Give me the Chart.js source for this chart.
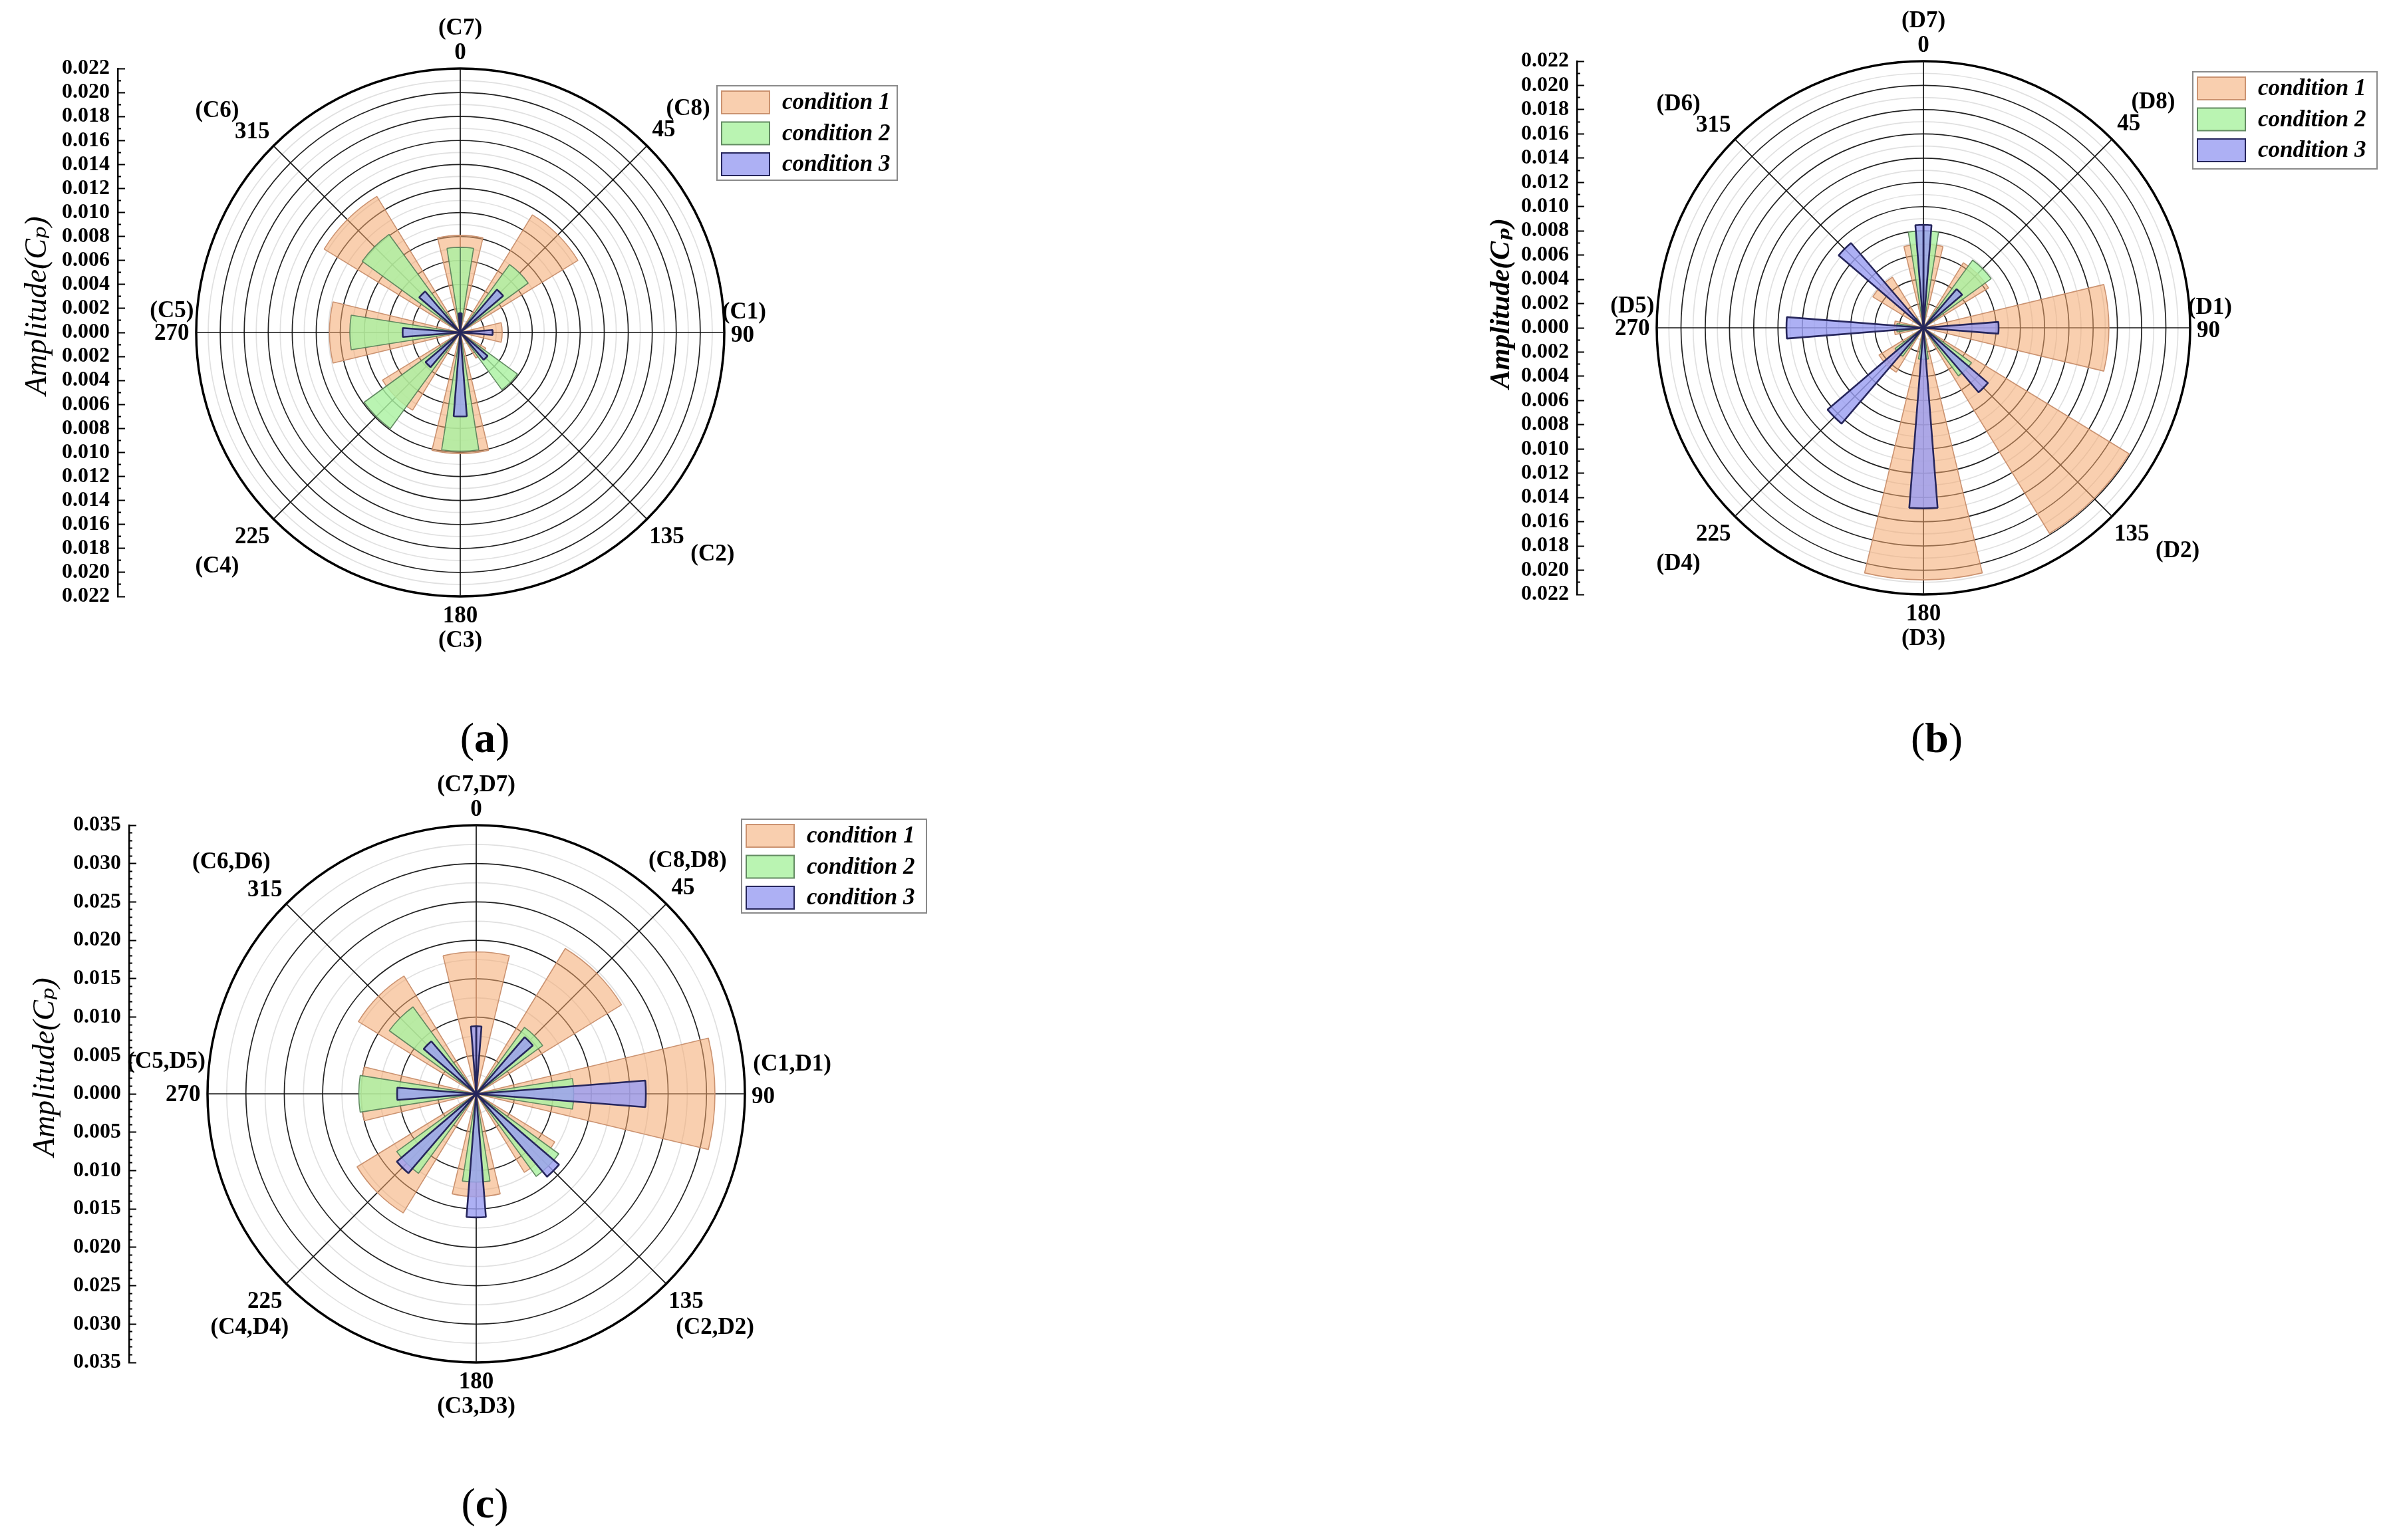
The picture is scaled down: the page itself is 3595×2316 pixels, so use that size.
<!DOCTYPE html>
<html>
<head>
<meta charset="utf-8">
<title>Amplitude rose charts</title>
<script src="https://cdn.jsdelivr.net/npm/chart.js@4.4.1/dist/chart.umd.min.js"></script>
<style>
  html, body { margin: 0; padding: 0; background: #ffffff; }
  body { position: relative; width: 3595px; height: 2316px; overflow: hidden; }
  canvas { position: absolute; }
  .caption { position: absolute; transform: translate(-50%, -50%); font-family: "Liberation Serif", "Times New Roman", serif; font-size: 64px; color: #000; white-space: nowrap; line-height: 1; }
  .caption b { font-weight: bold; }
</style>
</head>
<body>
<canvas id="chartA" width="1500" height="1060" style="left:0px;top:0px;"></canvas>
<canvas id="chartB" width="1445" height="1060" style="left:2150px;top:0px;"></canvas>
<canvas id="chartC" width="1500" height="1166" style="left:0px;top:1150px;"></canvas>
<div class="caption" style="left:729px;top:1110px;">(<b>a</b>)</div>
<div class="caption" style="left:2912px;top:1110px;">(<b>b</b>)</div>
<div class="caption" style="left:729px;top:2261px;">(<b>c</b>)</div>
<script>
// ---------- data ----------
const directions = [0, 45, 90, 135, 180, 225, 270, 315];
const pointNamesA = ['(C7)', '(C8)', '(C1)', '(C2)', '(C3)', '(C4)', '(C5)', '(C6)'];
const pointNamesB = ['(D7)', '(D8)', '(D1)', '(D2)', '(D3)', '(D4)', '(D5)', '(D6)'];
const pointNamesC = ['(C7,D7)', '(C8,D8)', '(C1,D1)', '(C2,D2)', '(C3,D3)', '(C4,D4)', '(C5,D5)', '(C6,D6)'];
const conditionNames = ['condition 1', 'condition 2', 'condition 3'];
const axisTitle = 'Amplitude(C\u209A)';

const condition1A = [0.0081, 0.0115, 0.0035, 0.0025, 0.0101, 0.0076, 0.0109, 0.0133];
const condition2A = [0.0071, 0.0070, 0.0005, 0.0059, 0.0099, 0.0099, 0.0092, 0.0101];
const condition3A = [0.0016, 0.0047, 0.0027, 0.0030, 0.0070, 0.0038, 0.0048, 0.0045];

const condition1B = [0.0069, 0.0063, 0.0153, 0.0199, 0.0208, 0.0043, 0.0024, 0.0049];
const condition2B = [0.0080, 0.0069, 0.0005, 0.0049, 0.0026, 0.0029, 0.0022, 0.0010];
const condition3B = [0.0085, 0.0042, 0.0062, 0.0070, 0.0149, 0.0104, 0.0113, 0.0092];

const condition1C = [0.0185, 0.0222, 0.0311, 0.0120, 0.0134, 0.0182, 0.0150, 0.0180];
const condition2C = [0.0008, 0.0107, 0.0127, 0.0133, 0.0115, 0.0128, 0.0153, 0.0140];
const condition3C = [0.0088, 0.0097, 0.0221, 0.0142, 0.0161, 0.0136, 0.0103, 0.0090];

const amplitudeTicksAB = [0.000, 0.002, 0.004, 0.006, 0.008, 0.010, 0.012, 0.014, 0.016, 0.018, 0.020, 0.022];
const amplitudeTicksC = [0.000, 0.005, 0.010, 0.015, 0.020, 0.025, 0.030, 0.035];

// ---------- styling ----------
const SERIF = '"Liberation Serif", "Times New Roman", "DejaVu Serif", serif';
const barWidths = [27, 18, 9];
const barFills = ['rgba(244,168,110,0.55)', 'rgba(171,242,161,0.82)', 'rgba(155,159,242,0.82)'];
const barBorders = ['rgba(200,142,108,0.95)', 'rgba(92,132,92,0.95)', 'rgba(38,38,92,1)'];
const barBorderWidths = [1.6, 1.6, 2.6];
const LS = 2.293;
const NUM_OFF = [[0, -10], [11, -10], [12, 2], [13, 12], [0, 13], [-14, 12], [-16, 1], [-14, -9]];
const NAME_OFF_AB = [[0, -26], [27, -24], [13, -13], [43, 23], [0, 29], [-37, 31], [-16, -14], [-37, -23]];
const NAME_OFF_C = [[0, -26], [14, -28], [31, -19], [32, 29], [0, 29], [-24, 29], [-27, -21], [-36, -27]];

function roseSequence(values, width) {
  const data = [], angles = [], gap = [];
  const push = (v, a, g) => { data.push(v); angles.push(a); gap.push(g); };
  push(values[0], width / 2, false);
  for (let i = 1; i < values.length; i++) {
    push(0, 45 - width, true);
    push(values[i], width, false);
  }
  push(0, 45 - width, true);
  push(values[0], width / 2, false);
  return { data, angles, gap };
}

function subdivide(majors, parts) {
  const out = [];
  for (let i = 0; i < majors.length; i++) {
    out.push(majors[i]);
    if (i < majors.length - 1) {
      for (let k = 1; k < parts; k++) out.push(majors[i] + (majors[i + 1] - majors[i]) * k / parts);
    }
  }
  return out;
}

function labelsPlugin(o) {
  return {
    id: 'directionLabels',
    afterDraw(chart) {
      const r = chart.scales.r, ctx = chart.ctx;
      ctx.save();
      ctx.font = 'bold 35px ' + SERIF;
      ctx.fillStyle = '#000';
      ctx.textAlign = 'center';
      ctx.textBaseline = 'middle';
      directions.forEach((deg, i) => {
        const p = r.getPointPosition(i, r.drawingArea);
        ctx.fillText(String(deg), p.x + NUM_OFF[i][0] * LS, p.y + NUM_OFF[i][1] * LS);
        ctx.fillText(o.names[i], p.x + o.nameOff[i][0] * LS, p.y + o.nameOff[i][1] * LS);
      });
      ctx.restore();
    }
  };
}

function legendPlugin(o) {
  return {
    id: 'conditionLegend',
    afterDraw(chart) {
      const r = chart.scales.r, ctx = chart.ctx, L = o.legend;
      const x0 = r.xCenter + L.dx, y0 = r.yCenter + L.dy;
      ctx.save();
      ctx.fillStyle = '#fff';
      ctx.fillRect(x0, y0, L.w, L.h);
      ctx.lineWidth = 2;
      ctx.strokeStyle = '#8a8a8a';
      ctx.strokeRect(x0, y0, L.w, L.h);
      ctx.font = 'italic bold 35px ' + SERIF;
      ctx.textBaseline = 'middle';
      ctx.textAlign = 'left';
      chart.data.datasets.forEach((ds, i) => {
        const yc = y0 + 25 + 46.5 * i;
        ctx.fillStyle = '#fff';
        ctx.fillRect(x0 + 7, yc - 17, 72, 34);
        ctx.fillStyle = ds.legendFill;
        ctx.fillRect(x0 + 7, yc - 17, 72, 34);
        ctx.strokeStyle = ds.legendStroke;
        ctx.lineWidth = 2;
        ctx.strokeRect(x0 + 7, yc - 17, 72, 34);
        ctx.fillStyle = '#000';
        ctx.fillText(ds.label, x0 + 98, yc + 1);
      });
      ctx.restore();
    }
  };
}

function buildRose(canvasId, o) {
  const canvas = document.getElementById(canvasId);
  const W = canvas.width, H = canvas.height;
  const max = o.majors[o.majors.length - 1];
  const ringVals = subdivide(o.majors, o.ringParts);
  const posY = subdivide(o.majors, o.axisParts);
  const yVals = posY.slice(1).map(v => -v).reverse().concat(posY);
  const isMajor = v => o.majors.some(m => Math.abs(Math.abs(v) - m) < 1e-9);
  const isMax = v => Math.abs(v - max) < 1e-9;
  const areaRight = 2 * o.cx - o.axisX;

  const datasets = [o.c1, o.c2, o.c3].map((vals, k) => {
    const seq = roseSequence(vals, barWidths[k]);
    return {
      label: conditionNames[k],
      data: seq.data,
      order: 3 - k,
      legendFill: barFills[k],
      legendStroke: barBorders[k],
      angle: (c) => seq.angles[c.dataIndex],
      backgroundColor: (c) => seq.gap[c.dataIndex] ? 'rgba(0,0,0,0)' : barFills[k],
      borderColor: barBorders[k],
      borderWidth: (c) => seq.gap[c.dataIndex] ? 0 : barBorderWidths[k]
    };
  });

  const titleFont = o.titleBold
    ? { family: SERIF, size: 42, style: 'italic', weight: 'bold' }
    : { family: SERIF, size: 46, style: 'italic', weight: 'normal' };
  const lineH = titleFont.size * 1.2;

  return new Chart(canvas, {
    type: 'polarArea',
    data: { labels: o.names, datasets },
    options: {
      responsive: false,
      devicePixelRatio: 1,
      animation: false,
      events: [],
      layout: { padding: { left: 0, top: o.cy - o.R, right: W - areaRight, bottom: H - (o.cy + o.R) } },
      plugins: { legend: { display: false }, tooltip: { enabled: false } },
      scales: {
        r: {
          type: 'radialLinear',
          min: 0,
          max: max,
          startAngle: 0,
          afterBuildTicks: (s) => { s.ticks = ringVals.map(v => ({ value: v })); },
          ticks: { display: false },
          pointLabels: { display: false },
          angleLines: { display: true, color: '#111', lineWidth: 1.7 },
          grid: {
            circular: true,
            color: (c) => isMax(c.tick.value) ? '#000' : (isMajor(c.tick.value) ? '#222' : '#e0e0e0'),
            lineWidth: (c) => isMax(c.tick.value) ? 3.5 : 1.7
          }
        },
        y: {
          type: 'linear',
          position: 'left',
          min: -max,
          max: max,
          afterBuildTicks: (s) => { s.ticks = yVals.map(v => ({ value: v })); },
          afterFit: (s) => { s.width = o.axisX; },
          ticks: {
            autoSkip: false,
            padding: 23,
            color: '#000',
            font: { family: SERIF, size: 32, weight: 'bold' },
            callback: (v) => isMajor(v) ? Math.abs(v).toFixed(3) : ''
          },
          grid: {
            display: true,
            drawOnChartArea: false,
            drawTicks: true,
            tickLength: -11,
            tickWidth: 2,
            tickColor: '#000',
            tickBorderDash: (c) => isMajor(c.tick.value) ? [] : [0, 6, 6, 100]
          },
          border: { display: true, color: '#000', width: 2.5 },
          title: {
            display: true,
            text: '       ' + axisTitle,
            color: '#000',
            font: titleFont,
            padding: { top: o.titleX - lineH / 2, bottom: 0 }
          }
        }
      }
    },
    plugins: [labelsPlugin(o), legendPlugin(o)]
  });
}

buildRose('chartA', {
  c1: condition1A, c2: condition2A, c3: condition3A,
  names: pointNamesA, nameOff: NAME_OFF_AB,
  majors: amplitudeTicksAB, ringParts: 2, axisParts: 2,
  cx: 692, cy: 500, R: 397, axisX: 177, titleX: 57, titleBold: false,
  legend: { dx: 386, dy: -371, w: 271, h: 142 }
});

buildRose('chartB', {
  c1: condition1B, c2: condition2B, c3: condition3B,
  names: pointNamesB, nameOff: NAME_OFF_AB,
  majors: amplitudeTicksAB, ringParts: 2, axisParts: 2,
  cx: 742, cy: 493, R: 401, axisX: 221, titleX: 108, titleBold: true,
  legend: { dx: 405, dy: -385, w: 277, h: 146 }
});

buildRose('chartC', {
  c1: condition1C, c2: condition2C, c3: condition3C,
  names: pointNamesC, nameOff: NAME_OFF_C,
  majors: amplitudeTicksC, ringParts: 2, axisParts: 5,
  cx: 716, cy: 495, R: 404, axisX: 194, titleX: 69, titleBold: false,
  legend: { dx: 399, dy: -413, w: 278, h: 141 }
});
</script>
</body>
</html>
